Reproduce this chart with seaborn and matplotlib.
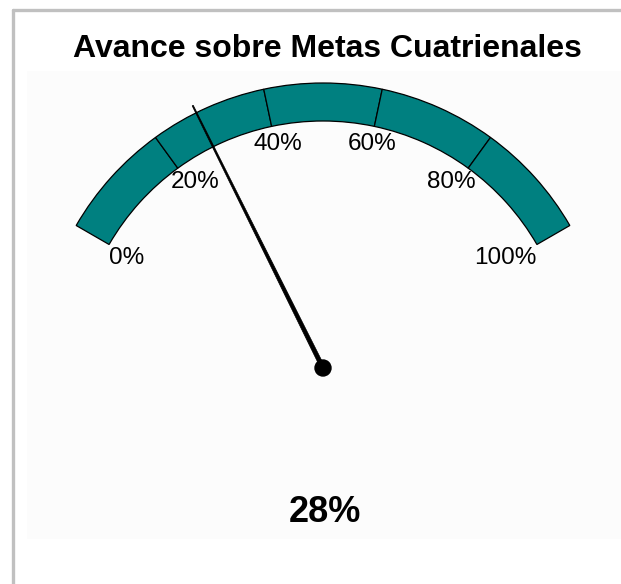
import numpy as np
import matplotlib
matplotlib.use("Agg")
import matplotlib.pyplot as plt
from matplotlib.patches import Wedge, Circle, Polygon
from matplotlib.lines import Line2D
import seaborn as sns

TITLE = "Avance sobre Metas Cuatrienales"
TICKS = [0, 20, 40, 60, 80, 100]
TICK_LABELS = ["0%", "20%", "40%", "60%", "80%", "100%"]
VALUE = 28
ARC_COLOR = "#008080"

START_ANGLE = 150
SWEEP = 120
R_OUT = 1.0
R_IN = 247 / 285


def to_angle(p):
    return START_ANGLE - p / 100 * SWEEP


sns.set_theme(style="white")
plt.rcParams["font.family"] = ["Liberation Sans", "DejaVu Sans"]

W, H = 621, 584
fig = plt.figure(figsize=(W / 100, H / 100), dpi=100)
fig.patch.set_facecolor("white")

# outer frame (left and top only are visible)
fig.add_artist(Line2D([13 / W, 13 / W], [0, 1 - 10 / H], color="#c0c0c0", lw=2.4))
fig.add_artist(Line2D([13 / W, 1], [1 - 10 / H, 1 - 10 / H], color="#c0c0c0", lw=2.4))

# plot panel
px0, px1, py0, py1 = 27, 621, 71, 539
cx, cy, scale = 323, 368, 285
ax = fig.add_axes([px0 / W, 1 - py1 / H, (px1 - px0) / W, (py1 - py0) / H])
ax.set_facecolor("#fcfcfc")
ax.set_xlim((px0 - cx) / scale, (px1 - cx) / scale)
ax.set_ylim((cy - py1) / scale, (cy - py0) / scale)
ax.set_xticks([])
ax.set_yticks([])
sns.despine(ax=ax, left=True, bottom=True)

# gauge segments
for a, b in zip(TICKS[:-1], TICKS[1:]):
    ax.add_patch(Wedge((0, 0), R_OUT, to_angle(b), to_angle(a), width=R_OUT - R_IN,
                       facecolor=ARC_COLOR, edgecolor="black", lw=0.9))

# tick labels, anchored at the inner edge of the arc
for t, lab in zip(TICKS, TICK_LABELS):
    deg = to_angle(t)
    ang = np.radians(deg)
    dy = 3
    if deg > 110:
        ha, dx = "left", (deg - START_ANGLE) * 7 / 24
    elif deg < 70:
        ha, dx = "right", (deg - (START_ANGLE - SWEEP)) * 7 / 24
    else:
        ha, dx, dy = "center", -4 * np.sign(np.cos(ang)) + 2, 7
    ax.text(R_IN * np.cos(ang) + dx / scale, R_IN * np.sin(ang) - dy / scale, lab,
            ha=ha, va="top", fontsize=17.5, color="black")

# needle
ang = np.radians(to_angle(VALUE))
L = 293 / 285
u = np.array([np.cos(ang), np.sin(ang)])
n = np.array([-u[1], u[0]])
base_w, tip_w = 2.2 / 285, 0.6 / 285
needle = Polygon([base_w * n, L * u + tip_w * n, L * u - tip_w * n, -base_w * n],
                 closed=True, facecolor="black", edgecolor="black", lw=0.5)
ax.add_patch(needle)
ax.add_patch(Circle((0, 0), 8 / 285, color="black"))

# value text
ax.text(1.5 / scale, (cy - 512) / scale, f"{VALUE}%", ha="center", va="center",
        fontsize=26, fontweight="bold", color="black")

fig.text(327 / W, 1 - 49 / H, TITLE, ha="center", va="center",
         fontsize=23, fontweight="bold", color="black")

fig.savefig("out.png", dpi=100)
